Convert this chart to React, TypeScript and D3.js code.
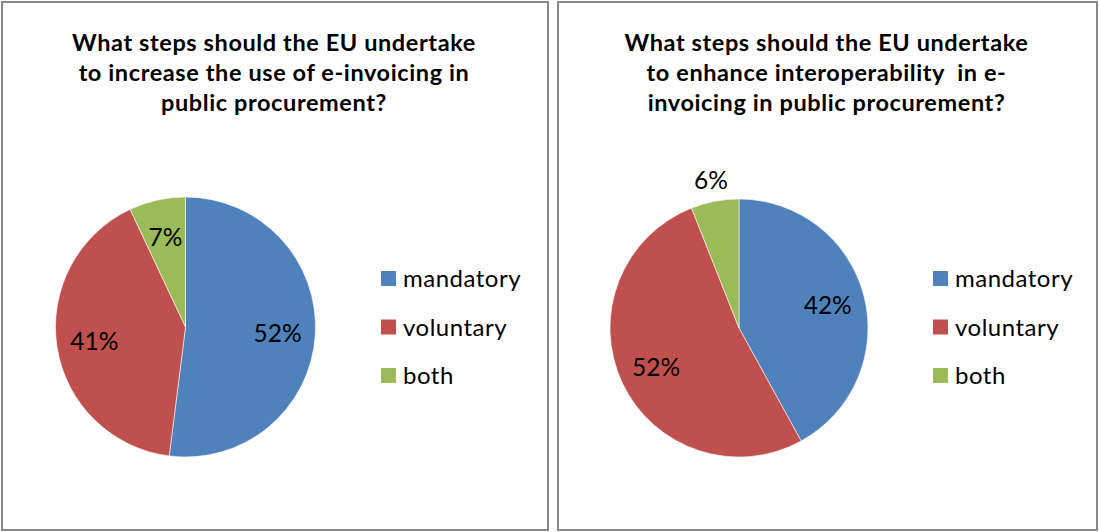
import React from 'react';
import * as d3 from 'd3';

const categories = ['mandatory', 'voluntary', 'both'];
const colors = ['#4F81BD', '#C0504D', '#9BBB59'];
const title1 = ['What steps should the EU undertake', 'to increase the use of e-invoicing in', 'public procurement?'];
const title2 = ['What steps should the EU undertake', 'to enhance interoperability  in e-', 'invoicing in public procurement?'];
const values1 = [52, 41, 7];
const values2 = [42, 52, 6];

const FONT = 'Lato, "Open Sans", sans-serif';

type PanelProps = {
  x0: number; w: number; title: string[]; values: number[];
  cx: number; cy: number; r: number; legendX: number; outsideBelow: number;
};

function Panel({ x0, w, title, values, cx, cy, r, legendX, outsideBelow }: PanelProps) {
  const pie = d3.pie<number>().sort(null).value(d => d);
  const arcs = pie(values);
  const arcGen = d3.arc<d3.PieArcDatum<number>>().innerRadius(0).outerRadius(r);
  const labelIn = d3.arc<d3.PieArcDatum<number>>().innerRadius(r * 0.71).outerRadius(r * 0.71);
  const labelOut = d3.arc<d3.PieArcDatum<number>>().innerRadius(r + 21).outerRadius(r + 21);
  const legendY = d3.scalePoint<string>().domain(categories).range([278.5, 375.5]);
  return (
    <g transform={`translate(${x0},0)`}>
      <rect x={0} y={2} width={w} height={528} fill="#fff" stroke="#888" strokeWidth={2} />
      <text x={w / 2 - 1} y={0} textAnchor="middle" fontFamily={FONT} fontWeight="bold" fontSize={23.5} letterSpacing={0.6} fill="#000">
        {title.map((t, i) => (
          <tspan key={i} x={w / 2 - 1} y={51 + i * 30} style={{ whiteSpace: 'pre' }}>{t}</tspan>
        ))}
      </text>
      <g transform={`translate(${cx},${cy})`}>
        {arcs.map((a, i) => (
          <path key={i} d={arcGen(a) || ''} fill={colors[i]} stroke="#fff" strokeWidth={0.8} strokeOpacity={0.7} />
        ))}
        {arcs.map((a, i) => {
          const [lx, ly] = (values[i] < outsideBelow ? labelOut : labelIn).centroid(a);
          return (
            <text key={'l' + i} x={lx} y={ly} dy="0.36em" textAnchor="middle" fontFamily={FONT} fontSize={24.5} fill="#000">
              {values[i]}%
            </text>
          );
        })}
      </g>
      {categories.map((c, i) => (
        <g key={c} transform={`translate(${legendX},${legendY(c)})`}>
          <rect x={0} y={-7.5} width={15} height={15} fill={colors[i]} />
          <text x={22} y={0} dy="0.36em" fontFamily={FONT} fontSize={24} letterSpacing={0.5} fill="#000">{c}</text>
        </g>
      ))}
    </g>
  );
}

export default function App() {
  return (
    <div style={{ position: 'absolute', left: 0, top: 0 }}>
      <svg width={1099} height={532} style={{ display: 'block' }}>
        <rect x={0} y={0} width={1099} height={532} fill="#fff" />
        <Panel x0={2} w={546} title={title1} values={values1} cx={183.5} cy={327} r={130} legendX={379} outsideBelow={7} />
        <Panel x0={558} w={539} title={title2} values={values2} cx={181} cy={328} r={129} legendX={375} outsideBelow={7} />
      </svg>
    </div>
  );
}
